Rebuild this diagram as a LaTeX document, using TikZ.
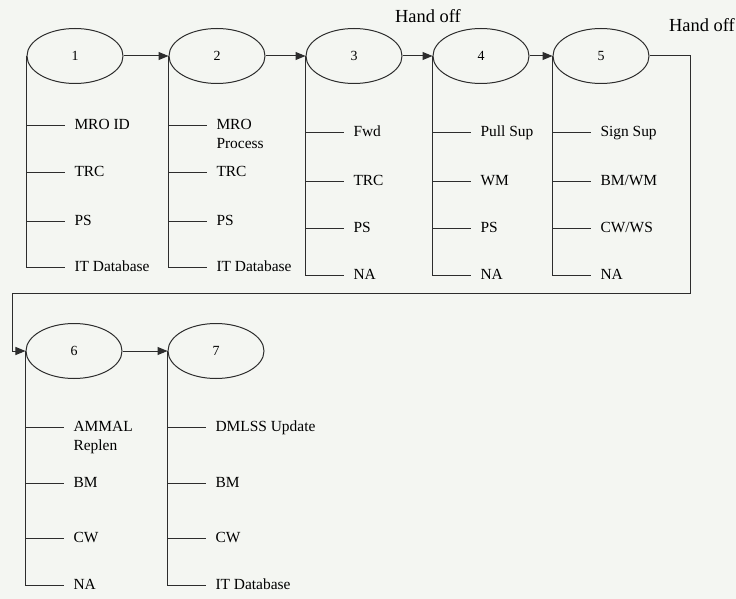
\documentclass[tikz,border=0pt]{standalone}
\usepackage{fontspec}
\setmainfont{Liberation Serif}
\usetikzlibrary{shapes.geometric,arrows.meta}
\definecolor{paper}{RGB}{244,246,242}
\definecolor{ink}{RGB}{45,45,45}
\tikzset{
  stage/.style={ellipse,draw=ink,minimum width=96bp,minimum height=55bp,inner sep=0pt,font=\fontsize{14}{16}\selectfont},
  item/.style={anchor=west,inner xsep=9bp,inner ysep=0pt,text height=11bp,text depth=3bp,font=\fontsize{15.5}{18}\selectfont},
  handoff/.style={font=\fontsize{18.5}{20}\selectfont}
}
\begin{document}
\begin{tikzpicture}[x=1bp,y=-1bp,line width=1bp,draw=ink,>={Triangle[length=10bp,width=8bp]}]
    \fill[paper] (0,0) rectangle (736,599);
    \useasboundingbox (0,0) rectangle (736,599);
    \node[stage] (e1) at (75,56) {1};
    \node[stage] (e2) at (217,56) {2};
    \node[stage] (e3) at (354,56) {3};
    \node[stage] (e4) at (481,56) {4};
    \node[stage] (e5) at (601,56) {5};
    \node[stage] (e6) at (74,351) {6};
    \node[stage] (e7) at (216,351) {7};
    \node[handoff] (h1) at (428,16) {Hand off};
    \node[handoff] (h2) at (702,25) {Hand off};
    \node[item] (s1a) at (65,126) {MRO ID};
    \node[item] (s1b) at (65,173) {TRC};
    \node[item] (s1c) at (65,221) {PS};
    \node[item] (s1d) at (65,267) {IT Database};
    \node[item] (s2a) at (207,126) {MRO};
    \node[item] (s2p) at ([yshift=-19bp]s2a.west) {Process};
    \node[item] (s2b) at (207,173) {TRC};
    \node[item] (s2c) at (207,221) {PS};
    \node[item] (s2d) at (207,267) {IT Database};
    \node[item] (s3a) at (344,133) {Fwd};
    \node[item] (s3b) at (344,182) {TRC};
    \node[item] (s3c) at (344,228) {PS};
    \node[item] (s3d) at (344,275) {NA};
    \node[item] (s4a) at (471,133) {Pull Sup};
    \node[item] (s4b) at (471,182) {WM};
    \node[item] (s4c) at (471,228) {PS};
    \node[item] (s4d) at (471,275) {NA};
    \node[item] (s5a) at (591,133) {Sign Sup};
    \node[item] (s5b) at (591,182) {BM/WM};
    \node[item] (s5c) at (591,228) {CW/WS};
    \node[item] (s5d) at (591,275) {NA};
    \node[item] (s6a) at (64,427) {AMMAL};
    \node[item] (s6p) at ([yshift=-19bp]s6a.west) {Replen};
    \node[item] (s6b) at (64,483) {BM};
    \node[item] (s6c) at (64,538) {CW};
    \node[item] (s6d) at (64,585) {NA};
    \node[item] (s7a) at (206,427) {DMLSS Update};
    \node[item] (s7b) at (206,483) {BM};
    \node[item] (s7c) at (206,538) {CW};
    \node[item] (s7d) at (206,585) {IT Database};
    \draw (e1.west) |- (s1d.west) (e1.west |- s1a.west) -- (s1a.west) (e1.west |- s1b.west) -- (s1b.west) (e1.west |- s1c.west) -- (s1c.west);
    \draw (e2.west) |- (s2d.west) (e2.west |- s2a.west) -- (s2a.west) (e2.west |- s2b.west) -- (s2b.west) (e2.west |- s2c.west) -- (s2c.west);
    \draw (e3.west) |- (s3d.west) (e3.west |- s3a.west) -- (s3a.west) (e3.west |- s3b.west) -- (s3b.west) (e3.west |- s3c.west) -- (s3c.west);
    \draw (e4.west) |- (s4d.west) (e4.west |- s4a.west) -- (s4a.west) (e4.west |- s4b.west) -- (s4b.west) (e4.west |- s4c.west) -- (s4c.west);
    \draw (e5.west) |- (s5d.west) (e5.west |- s5a.west) -- (s5a.west) (e5.west |- s5b.west) -- (s5b.west) (e5.west |- s5c.west) -- (s5c.west);
    \draw (e6.west) |- (s6d.west) (e6.west |- s6a.west) -- (s6a.west) (e6.west |- s6b.west) -- (s6b.west) (e6.west |- s6c.west) -- (s6c.west);
    \draw (e7.west) |- (s7d.west) (e7.west |- s7a.west) -- (s7a.west) (e7.west |- s7b.west) -- (s7b.west) (e7.west |- s7c.west) -- (s7c.west);
    \draw[->] (e1) -- (e2);
    \draw[->] (e2) -- (e3);
    \draw[->] (e3) -- (e4);
    \draw[->] (e4) -- (e5);
    \draw[->] (e6) -- (e7);
    \coordinate (back) at (12,293);
    \draw[->] (e5.east) -- ++(41,0) |- (back) |- (e6.west);
\end{tikzpicture}
\end{document}
